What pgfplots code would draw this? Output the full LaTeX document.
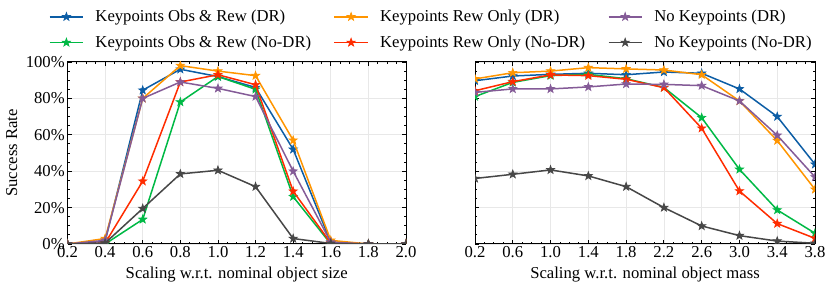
\documentclass[border=0pt]{standalone}
\usepackage{fontspec}
\setmainfont{Liberation Serif}
\usepackage{pgfplots}
\pgfplotsset{compat=1.18}
\definecolor{cblue}{HTML}{0C5DA5}
\definecolor{cgreen}{HTML}{00B945}
\definecolor{corange}{HTML}{FF9500}
\definecolor{cred}{HTML}{FF2C00}
\definecolor{cpurple}{HTML}{845B97}
\definecolor{cgray}{HTML}{474747}
\pgfdeclareplotmark{fstar}{%
  \pgfpathmoveto{\pgfpointpolar{90}{\pgfplotmarksize}}%
  \pgfpathlineto{\pgfpointpolar{126}{0.4\pgfplotmarksize}}%
  \pgfpathlineto{\pgfpointpolar{162}{\pgfplotmarksize}}%
  \pgfpathlineto{\pgfpointpolar{198}{0.4\pgfplotmarksize}}%
  \pgfpathlineto{\pgfpointpolar{234}{\pgfplotmarksize}}%
  \pgfpathlineto{\pgfpointpolar{270}{0.4\pgfplotmarksize}}%
  \pgfpathlineto{\pgfpointpolar{306}{\pgfplotmarksize}}%
  \pgfpathlineto{\pgfpointpolar{342}{0.4\pgfplotmarksize}}%
  \pgfpathlineto{\pgfpointpolar{18}{\pgfplotmarksize}}%
  \pgfpathlineto{\pgfpointpolar{54}{0.4\pgfplotmarksize}}%
  \pgfpathclose
  \pgfusepathqfillstroke}
\pgfplotsset{
  myaxis/.style={
    scale only axis, height=109.2pt,
    ymin=0, ymax=100,
    ytick={0,20,40,60,80,100},
    minor x tick num=3, minor y tick num=3,
    tick align=inside,
    major tick length=2.6pt, minor tick length=1.4pt,
    every tick/.style={black, line width=0.5pt},
    axis line style={black, line width=0.6pt},
    grid=major,
    major grid style={gray!18, line width=0.4pt},
    /pgf/number format/assume math mode=true,
    xticklabel style={inner sep=1.5pt},
    yticklabel style={inner sep=1.5pt},
    clip marker paths=true,
    every axis plot/.append style={line width=0.9pt, mark=fstar, mark size=2.6pt, mark options={solid, line width=0.4pt}},
    legend image code/.code={\draw[mark repeat=2, mark phase=2] plot coordinates {(0pt,0pt) (10pt,0pt) (20pt,0pt)};},
  },
}
\begin{document}
\begin{tikzpicture}
\path[use as bounding box] (-40.5pt,-26.4pt) rectangle (457.5pt,146.4pt);
\begin{axis}[myaxis,
  at={(0pt,0pt)}, anchor=south west,
  width=203.1pt,
  xmin=0.2, xmax=2.0,
  xtick={0.2,0.4,0.6,0.8,1.0,1.2,1.4,1.6,1.8,2.0},
  xticklabels={0.2,0.4,0.6,0.8,1.0,1.2,1.4,1.6,1.8,2.0},
  yticklabels={0\%,20\%,40\%,60\%,80\%,100\%},
  xlabel={Scaling w.r.t. nominal object size},
  ylabel={Success Rate},
  legend columns=2, transpose legend,
  legend cell align=left,
  legend style={at={(1.078,1.33)}, anchor=north, draw=none, fill=none,
    /tikz/every odd column/.append style={column sep=4.5pt},
    /tikz/every even column/.append style={column sep=11pt},
    nodes={inner sep=2.5pt}, row sep=2pt},
]
\addplot[cblue] coordinates {(0.2,0) (0.4,1.5) (0.6,84.5) (0.8,96) (1.0,92) (1.2,86) (1.4,52) (1.6,1) (1.8,0) (2.0,0)};
\addlegendentry{Keypoints Obs \& Rew (DR)}
\addplot[cgreen] coordinates {(0.2,0) (0.4,0) (0.6,13.5) (0.8,78) (1.0,92) (1.2,85) (1.4,26) (1.6,0) (1.8,0) (2.0,0)};
\addlegendentry{Keypoints Obs \& Rew (No-DR)}
\addplot[corange] coordinates {(0.2,0) (0.4,3) (0.6,80) (0.8,98) (1.0,95) (1.2,92.5) (1.4,57) (1.6,2) (1.8,0) (2.0,0)};
\addlegendentry{Keypoints Rew Only (DR)}
\addplot[cred] coordinates {(0.2,0) (0.4,0.5) (0.6,34.5) (0.8,89) (1.0,93) (1.2,87.5) (1.4,29) (1.6,0.5) (1.8,0) (2.0,0)};
\addlegendentry{Keypoints Rew Only (No-DR)}
\addplot[cpurple] coordinates {(0.2,0) (0.4,2) (0.6,80) (0.8,89) (1.0,85.5) (1.2,81) (1.4,40) (1.6,1) (1.8,0) (2.0,0)};
\addlegendentry{No Keypoints (DR)}
\addplot[cgray] coordinates {(0.2,0) (0.4,0.5) (0.6,19.5) (0.8,38.5) (1.0,40.5) (1.2,31.5) (1.4,3) (1.6,0.3) (1.8,0) (2.0,0)};
\addlegendentry{No Keypoints (No-DR)}
\end{axis}
\begin{axis}[myaxis,
  at={(244.5pt,0pt)}, anchor=south west,
  width=204pt,
  xmin=0.2, xmax=3.8,
  xtick={0.2,0.6,1.0,1.4,1.8,2.2,2.6,3.0,3.4,3.8},
  xticklabels={0.2,0.6,1.0,1.4,1.8,2.2,2.6,3.0,3.4,3.8},
  yticklabels={},
  xlabel={Scaling w.r.t. nominal object mass},
]
\addplot[cblue] coordinates {(0.2,89.7) (0.6,92.3) (1.0,93.2) (1.4,93.8) (1.8,93) (2.2,94.5) (2.6,93.8) (3.0,85.2) (3.4,70) (3.8,43.8)};
\addplot[cgreen] coordinates {(0.2,81) (0.6,88.8) (1.0,92.5) (1.4,93.2) (1.8,90.8) (2.2,86) (2.6,69.4) (3.0,41) (3.4,18.7) (3.8,5.9)};
\addplot[corange] coordinates {(0.2,90.7) (0.6,94.1) (1.0,95) (1.4,96.9) (1.8,96.2) (2.2,95.6) (2.6,93) (3.0,78.6) (3.4,56.8) (3.8,30)};
\addplot[cred] coordinates {(0.2,84.2) (0.6,89.2) (1.0,92.9) (1.4,92.5) (1.8,90.5) (2.2,85.9) (2.6,63.6) (3.0,29.1) (3.4,11.2) (3.8,3.1)};
\addplot[cpurple] coordinates {(0.2,83.3) (0.6,85.2) (1.0,85.2) (1.4,86.3) (1.8,87.9) (2.2,87.7) (2.6,87) (3.0,78.6) (3.4,59.7) (3.8,36.8)};
\addplot[cgray] coordinates {(0.2,36) (0.6,38.3) (1.0,40.7) (1.4,37.4) (1.8,31.5) (2.2,20) (2.6,9.9) (3.0,4.6) (3.4,1.6) (3.8,0.4)};
\end{axis}
\end{tikzpicture}
\end{document}
